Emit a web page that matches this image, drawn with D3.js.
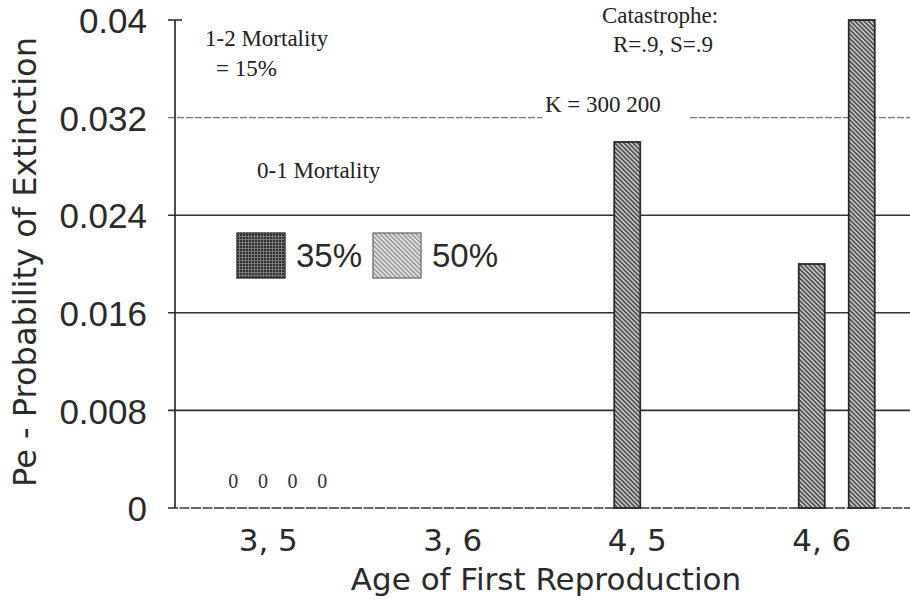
<!DOCTYPE html>
<html>
<head>
<meta charset="utf-8">
<script src="https://cdn.jsdelivr.net/npm/d3@7"></script>
<style>
  html, body { margin: 0; padding: 0; background: #fff; }
  svg { display: block; }
</style>
</head>
<body>
<svg id="chart" width="910" height="607"></svg>
<script>
// ---- data ----
const categories = ["3, 5", "3, 6", "4, 5", "4, 6"];
const seriesKeys = ["K300_35", "K300_50", "K200_35", "K200_50"];
const seriesMortality = ["35%", "50%", "35%", "50%"];
const k300_35 = [0, 0, 0, 0];
const k300_50 = [0, 0, 0.030, 0.020];
const k200_35 = [0, 0, 0, 0];
const k200_50 = [0, 0, 0, 0.040];
const yTicks = [0, 0.008, 0.016, 0.024, 0.032, 0.04];
const yTickLabels = ["0", "0.008", "0.016", "0.024", "0.032", "0.04"];
const zeroLabelCategory = "3, 5";
const zeroLabels = ["0", "0", "0", "0"];
const legendLabels = ["35%", "50%"];
const yTitle = "Pe - Probability of Extinction";
const xTitle = "Age of First Reproduction";
const notes = ["1-2 Mortality", "= 15%", "0-1 Mortality", "Catastrophe:", "R=.9, S=.9", "K = 300  200"];

const seriesValues = [k300_35, k300_50, k200_35, k200_50];
const rows = [];
categories.forEach((c, ci) => seriesKeys.forEach((k, si) => {
  rows.push({ cat: c, key: k, mort: seriesMortality[si], value: seriesValues[si][ci] });
}));

const svg = d3.select("#chart");
const defs = svg.append("defs");

// hatch pattern for 50% bars
const p50 = defs.append("pattern").attr("id", "hatch50").attr("width", 3.2).attr("height", 3.2)
  .attr("patternUnits", "userSpaceOnUse").attr("patternTransform", "rotate(-45)");
p50.append("rect").attr("width", 3.2).attr("height", 3.2).attr("fill", "#c4c4c4");
p50.append("line").attr("x1", 0.8).attr("y1", 0).attr("x2", 0.8).attr("y2", 3.2)
  .attr("stroke", "#505050").attr("stroke-width", 1.6);
// lighter hatch for legend 50%
const p50l = defs.append("pattern").attr("id", "hatch50l").attr("width", 3.2).attr("height", 3.2)
  .attr("patternUnits", "userSpaceOnUse").attr("patternTransform", "rotate(-45)");
p50l.append("rect").attr("width", 3.2).attr("height", 3.2).attr("fill", "#e2e2e2");
p50l.append("line").attr("x1", 0.8).attr("y1", 0).attr("x2", 0.8).attr("y2", 3.2)
  .attr("stroke", "#8c8c8c").attr("stroke-width", 1.3);
// dark dotted for 35%
const p35 = defs.append("pattern").attr("id", "dots35").attr("width", 3).attr("height", 3)
  .attr("patternUnits", "userSpaceOnUse");
p35.append("rect").attr("width", 3).attr("height", 3).attr("fill", "#7a7a7a");
p35.append("rect").attr("x", 0).attr("y", 0).attr("width", 2).attr("height", 2).attr("fill", "#2e2e2e");

const fillFor = m => m === "35%" ? "url(#dots35)" : "url(#hatch50)";

// ---- scales ----
const x = d3.scaleBand().domain(categories).range([176, 914]).padding(0);
const x1 = d3.scaleBand().domain(seriesKeys).range([-48, 52]).padding(0);
const xz = d3.scalePoint().domain(d3.range(zeroLabels.length)).range([-35, 54]);
const y = d3.scaleLinear().domain([0, 0.04]).range([508, 20]);
const axisX = 175, gridL = 168, gridR = 910;

// ---- gridlines ----
const grid = svg.append("g");
yTicks.forEach((t, i) => {
  const isTop = i === yTicks.length - 1;
  grid.append("line")
    .attr("x1", gridL).attr("x2", isTop ? 182 : gridR)
    .attr("y1", y(t)).attr("y2", y(t))
    .attr("stroke", t === 0.032 ? "#777" : "#333")
    .attr("stroke-width", t === 0.032 ? 1.2 : 1.6)
    .attr("stroke-dasharray", t === 0.032 ? "7,2" : (t === 0 ? "10,1.5" : null));
});

// K label with white gap in the 0.032 gridline
const kText = svg.append("text")
  .attr("x", 545).attr("y", 112)
  .attr("font-family", "'Liberation Serif', 'Times New Roman', serif")
  .attr("font-size", 23).attr("fill", "#222")
  .text(notes[5]);
const kb = kText.node().getBBox();
svg.insert("rect", "text")
  .attr("x", kb.x - 3).attr("y", y(0.032) - 3)
  .attr("width", kb.width + 32).attr("height", 6).attr("fill", "#fff");

// axis line
svg.append("line").attr("x1", axisX).attr("x2", axisX)
  .attr("y1", y(0.04)).attr("y2", y(0))
  .attr("stroke", "#222").attr("stroke-width", 1.6);

// tick labels
const yAxis = d3.axisLeft(y).tickValues(yTicks).tickSize(0)
  .tickFormat((d, i) => yTickLabels[i]);
const gy = svg.append("g").attr("transform", "translate(147,0)").call(yAxis);
gy.select(".domain").remove();
gy.selectAll("text")
  .attr("font-family", "'Liberation Sans', Arial, sans-serif")
  .attr("font-size", 35).attr("fill", "#2a2a2a").attr("x", 0).attr("dy", "0.36em");

// x tick labels
const xAxis = d3.axisBottom(x).tickSize(0);
const gx = svg.append("g").attr("transform", "translate(0,551)").call(xAxis);
gx.select(".domain").remove();
gx.selectAll("text")
  .attr("font-family", "'DejaVu Sans', sans-serif")
  .attr("font-size", 31).attr("fill", "#2a2a2a").attr("y", 0).attr("dy", 0);

// axis titles
svg.append("text")
  .attr("x", 546).attr("y", 590).attr("text-anchor", "middle")
  .attr("font-family", "'DejaVu Sans', sans-serif").attr("font-size", 31).attr("fill", "#2a2a2a")
  .text(xTitle);
svg.append("text")
  .attr("transform", "translate(36,262) rotate(-90)").attr("text-anchor", "middle")
  .attr("font-family", "'DejaVu Sans', sans-serif").attr("font-size", 32).attr("fill", "#2a2a2a")
  .text(yTitle);

// ---- bars ----
svg.append("g").selectAll("rect")
  .data(rows.filter(d => d.value > 0))
  .join("rect")
  .attr("x", d => x(d.cat) + x.bandwidth() / 2 + x1(d.key))
  .attr("width", x1.bandwidth() + 1)
  .attr("y", d => y(d.value))
  .attr("height", d => y(0) - y(d.value))
  .attr("fill", d => fillFor(d.mort))
  .attr("stroke", "#2a2a2a").attr("stroke-width", 1.8);

// zero labels
svg.append("g").selectAll("text")
  .data(zeroLabels)
  .join("text")
  .attr("x", (d, i) => x(zeroLabelCategory) + x.bandwidth() / 2 + xz(i))
  .attr("y", 488).attr("text-anchor", "middle")
  .attr("font-family", "'Liberation Serif', 'Times New Roman', serif")
  .attr("font-size", 20).attr("fill", "#333")
  .text(d => d);

// ---- annotations ----
const serif = "'Liberation Serif', 'Times New Roman', serif";
const ann = [
  { t: notes[0], x: 205, y: 46, a: "start" },
  { t: notes[1], x: 216, y: 76, a: "start" },
  { t: notes[2], x: 257, y: 178, a: "start" },
  { t: notes[3], x: 660, y: 23, a: "middle" },
  { t: notes[4], x: 663, y: 52, a: "middle" }
];
svg.append("g").selectAll("text").data(ann).join("text")
  .attr("x", d => d.x).attr("y", d => d.y).attr("text-anchor", d => d.a)
  .attr("font-family", serif).attr("font-size", 23).attr("fill", "#222")
  .text(d => d.t);

// ---- legend ----
const legendFills = ["url(#dots35)", "url(#hatch50l)"];
const lg = svg.append("g");
legendLabels.forEach((l, i) => {
  const lx = 237 + i * 136;
  lg.append("rect").attr("x", lx).attr("y", 233).attr("width", 48).attr("height", 45)
    .attr("fill", legendFills[i]).attr("stroke", i === 0 ? "#333" : "#777").attr("stroke-width", 1.4);
  lg.append("text").attr("x", lx + 59).attr("y", 267)
    .attr("font-family", "'Liberation Sans', Arial, sans-serif").attr("font-size", 33).attr("fill", "#2a2a2a")
    .text(l);
});
</script>
</body>
</html>
